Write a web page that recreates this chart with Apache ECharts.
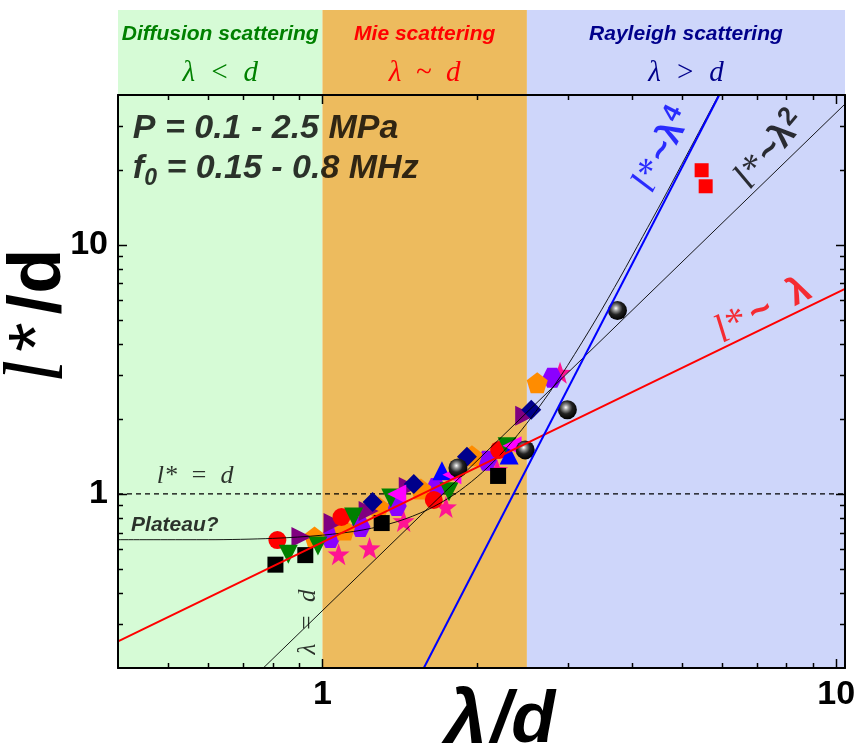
<!DOCTYPE html>
<html><head><meta charset="utf-8">
<script src="https://cdn.jsdelivr.net/npm/echarts@6/dist/echarts.min.js"></script>
<style>html,body{margin:0;padding:0;background:#fff}#c{width:864px;height:753px}</style>
</head><body><div id="c"></div>
<script>
// ---------- data ----------
const blackSquares   = [[0.81,0.52],[0.926,0.568],[1.304,0.764],[2.197,1.181]];
const redCircles     = [[0.817,0.653],[1.089,0.808],[1.647,0.946],[2.207,1.503]];
const greenDown      = [[0.858,0.573],[0.98,0.618],[1.15,0.808],[1.358,0.964],[1.763,1.02],[2.288,1.546]];
const purpleRight    = [[0.91,0.671],[1.051,0.764],[1.23,0.854],[1.472,1.067],[2.481,2.06]];
const orangePentagon = [[0.965,0.671],[1.104,0.716],[1.286,0.886],[1.554,1.047],[1.954,1.422],[2.618,2.797]];
const violetHexagon  = [[1.037,0.665],[1.186,0.737],[1.395,0.895],[1.663,1.057],[2.091,1.358],[2.801,2.93]];
const pinkStars      = [[1.075,0.573],[1.235,0.606],[1.439,0.779],[1.739,0.886],[2.187,1.249],[2.90,3.07]];
const navyDiamonds   = [[1.252,0.928],[1.506,1.097],[1.911,1.409],[2.549,2.178]];
const blueUp         = [[1.708,1.238],[2.308,1.435]];
const magentaLeft    = [[1.395,1.0],[1.786,1.193],[2.339,1.56]];
const blackSpheres   = [[1.835,1.272],[2.481,1.503],[2.997,2.178],[3.751,5.449]];
const redSquares     = [[5.47,19.95],[5.57,17.2]];

const lineLambda1 = [[0.4,0.256],[10.4,6.66]];
const lineLambda2 = [[0.767,0.2],[10.4,36.8]];
const lineLambda4 = [[1.575,0.2],[5.92,40]];
const plateauCurve = [[0.4,0.655],[0.6,0.655],[0.8,0.663],[1.0,0.683],[1.2,0.717],[1.4,0.775],[1.6,0.863],
  [1.8,0.991],[2.0,1.17],[2.2,1.41],[2.4,1.73],[2.6,2.14],[2.8,2.65],[3.0,3.28],[3.4,4.99],[3.8,7.43],
  [4.2,10.8],[4.6,15.2],[5.0,21.0],[5.4,28.3],[5.8,37.4],[6.0,42.8]];
const unityLine = [[0.4,1],[10.4,1]];

const bandEdges = [0.4, 1, 2.5, 10.4];
const bandNames = ['Diffusion scattering','Mie scattering','Rayleigh scattering'];
const bandConditions = ['λ  <  d','λ  ~  d','λ  >  d'];

const xRange = [0.4, 10.4];
const yRange = [0.2, 40];
const xMajorTicks = [1, 10];
const xMinorTicks = [0.5,0.6,0.7,0.8,0.9,2,3,4,5,6,7,8,9];
const yMajorTicks = [1, 10];
const yMinorTicks = [0.3,0.4,0.5,0.6,0.7,0.8,0.9,2,3,4,5,6,7,8,9,20,30];
const xTickLabels = ['1','10'];
const yTickLabels = ['1','10'];

// ---------- styles ----------
const SANS = '"Liberation Sans", Arial, sans-serif';
const SERIF = '"Liberation Serif", "Times New Roman", serif';
const bandColors = ['#D6FBD6', '#EDBB5E', '#CED6FA'];
const bandTextColors = ['#008000', '#FF0000', '#00008B'];
const PENTAGON = 'path://M0,-10L9.51,-3.09L5.88,8.09L-5.88,8.09L-9.51,-3.09Z';
const HEXAGON = 'path://M-10,0L-5,-8.66L5,-8.66L10,0L5,8.66L-5,8.66Z';
const STAR = 'path://M0,-10L2.35,-3.24L9.51,-3.09L3.8,1.24L5.88,8.09L0,4L-5.88,8.09L-3.8,1.24L-9.51,-3.09L-2.35,-3.24Z';

function fmtTick(labels, majors) {
  return function (v) {
    for (let i = 0; i < majors.length; i++) {
      if (Math.abs(v - majors[i]) / majors[i] < 1e-6) return labels[i];
    }
    return '';
  };
}

function markers(name, data, symbol, color, size, rotate) {
  return { type: 'scatter', name, data, symbol, symbolSize: size, symbolRotate: rotate || 0,
    itemStyle: { color, opacity: 1 }, z: 4, silent: true, xAxisIndex: 0, yAxisIndex: 0 };
}
function line(name, data, color, width, extra) {
  return Object.assign({ type: 'line', name, data, showSymbol: false, symbol: 'none', clip: true,
    lineStyle: { color, width }, z: 6, silent: true, xAxisIndex: 0, yAxisIndex: 0 }, extra || {});
}

const tickData = [].concat(
  xMajorTicks.map(v => [v, 1, 0, 1]), xMinorTicks.map(v => [v, 1, 0, 0]),
  yMajorTicks.map(v => [1, v, 1, 1]), yMinorTicks.map(v => [1, v, 1, 0]));

function renderTick(params, api) {
  const cs = params.coordSys;
  const isY = api.value(2) === 1;
  const len = api.value(3) === 1 ? 9 : 5;
  const st = { stroke: '#000', lineWidth: 1.5 };
  if (!isY) {
    const px = Math.round(api.coord([api.value(0), 1])[0]) + 0.5;
    return { type: 'group', children: [
      { type: 'line', shape: { x1: px, y1: cs.y + cs.height, x2: px, y2: cs.y + cs.height - len }, style: st },
      { type: 'line', shape: { x1: px, y1: cs.y, x2: px, y2: cs.y + len }, style: st } ] };
  }
  const py = Math.round(api.coord([1, api.value(1)])[1]) + 0.5;
  return { type: 'group', children: [
    { type: 'line', shape: { x1: cs.x, y1: py, x2: cs.x + len, y2: py }, style: st },
    { type: 'line', shape: { x1: cs.x + cs.width, y1: py, x2: cs.x + cs.width - len, y2: py }, style: st } ] };
}

const sphereColor = { type: 'radial', x: 0.42, y: 0.38, r: 0.62,
  colorStops: [{ offset: 0, color: '#ffffff' }, { offset: 0.22, color: '#9a9a9a' },
               { offset: 0.55, color: '#222' }, { offset: 1, color: '#000' }] };

const lbl = (size, color, weight, style, family) =>
  ({ fontSize: size, color, fontWeight: weight, fontStyle: style, fontFamily: family });

const annotations = {
  type: 'scatter', symbolSize: 0, silent: true, z: 8, xAxisIndex: 0, yAxisIndex: 0,
  data: [
    { value: [0.4275, 29.2], label: { show: true, position: 'right', distance: 0,
      formatter: 'P = 0.1 - 2.5 MPa', ...lbl(34, '#000', 'bold', 'italic', SANS) } },
    { value: [0.4275, 20.3], label: { show: true, position: 'right', distance: 0,
      formatter: '{f|f}{s|0}{f| = 0.15 - 0.8 MHz}',
      rich: { f: lbl(34, '#000', 'bold', 'italic', SANS),
              s: Object.assign(lbl(23, '#000', 'bold', 'italic', SANS), { padding: [20, 0, 0, 0] }) } } },
    { value: [0.565, 1.18], label: { show: true, position: 'inside',
      formatter: 'l*  =  d', ...lbl(26, '#000', 'normal', 'italic', SERIF) } },
    { value: [0.516, 0.75], label: { show: true, position: 'inside',
      formatter: 'Plateau?', ...lbl(21, '#000', 'bold', 'italic', SANS) } },
    { value: [0.939, 0.306], label: { show: true, position: 'inside', rotate: 90,
      formatter: 'λ  =  d', ...lbl(25, '#000', 'normal', 'italic', SERIF) } },
    { value: [4.6, 24.0], label: { show: true, position: 'inside', rotate: 63,
      formatter: '{l|l*} {t|~λ}{p|4}',
      rich: { l: lbl(38, '#0000FF', 'normal', 'italic', SERIF), t: lbl(36, '#0000FF', 'bold', 'normal', SANS),
              p: Object.assign(lbl(26, '#0000FF', 'bold', 'normal', SANS), { padding: [0, 0, 16, 0] }) } } },
    { value: [7.45, 24.0], label: { show: true, position: 'inside', rotate: 50,
      formatter: '{l|l*} {t|~λ}{p|2}',
      rich: { l: lbl(38, '#000', 'normal', 'italic', SERIF), t: lbl(36, '#000', 'bold', 'normal', SANS),
              p: Object.assign(lbl(26, '#000', 'bold', 'normal', SANS), { padding: [0, 0, 16, 0] }) } } },
    { value: [7.2, 5.45], label: { show: true, position: 'inside', rotate: 27,
      formatter: '{l|l*}  {t|~  λ}',
      rich: { l: lbl(40, '#FF0000', 'normal', 'italic', SERIF), t: lbl(38, '#FF0000', 'bold', 'normal', SANS) } } }
  ]
};

const mainBands = bandNames.map((n, i) => [
  { xAxis: bandEdges[i], itemStyle: { color: bandColors[i], opacity: 1 } },
  { xAxis: bandEdges[i + 1] }]);
const topBands = bandNames.map((n, i) => [
  { xAxis: bandEdges[i], itemStyle: { color: bandColors[i], opacity: 1 },
    label: { show: true, position: 'insideTop', distance: 10,
      formatter: '{a|' + n + '}\n{b|' + bandConditions[i] + '}',
      rich: { a: Object.assign(lbl(21, bandTextColors[i], 'bold', 'italic', SANS), { lineHeight: 28 }),
              b: Object.assign(lbl(29, bandTextColors[i], 'normal', 'italic', SERIF), { lineHeight: 50 }) } } },
  { xAxis: bandEdges[i + 1] }]);

const axisLineStyle = { show: true, lineStyle: { color: '#000', width: 2 } };
const logAxisBase = { type: 'log', logBase: 10, splitLine: { show: false }, axisTick: { show: false },
  minorTick: { show: false }, z: 10 };

const option = {
  animation: false,
  backgroundColor: '#fff',
  grid: [
    { left: 118, right: 19, top: 95, bottom: 85 },
    { left: 118, right: 19, top: 10, height: 85 }
  ],
  xAxis: [
    Object.assign({}, logAxisBase, { gridIndex: 0, position: 'bottom', min: xRange[0], max: xRange[1],
      axisLine: axisLineStyle,
      axisLabel: { show: true, formatter: fmtTick(xTickLabels, xMajorTicks), showMinLabel: false, showMaxLabel: false,
        margin: 10, color: '#000', fontSize: 34, fontWeight: 'bold', fontFamily: SANS } }),
    Object.assign({}, logAxisBase, { gridIndex: 0, position: 'top', min: xRange[0], max: xRange[1],
      axisLine: axisLineStyle, axisLabel: { show: false } }),
    Object.assign({}, logAxisBase, { gridIndex: 1, min: xRange[0], max: xRange[1], show: false })
  ],
  yAxis: [
    Object.assign({}, logAxisBase, { gridIndex: 0, position: 'left', min: yRange[0], max: yRange[1],
      axisLine: axisLineStyle,
      axisLabel: { show: true, formatter: fmtTick(yTickLabels, yMajorTicks), showMinLabel: false, showMaxLabel: false,
        margin: 10, color: '#000', fontSize: 34, fontWeight: 'bold', fontFamily: SANS } }),
    Object.assign({}, logAxisBase, { gridIndex: 0, position: 'right', min: yRange[0], max: yRange[1],
      axisLine: axisLineStyle, axisLabel: { show: false } }),
    { type: 'value', gridIndex: 1, min: 0, max: 1, show: false }
  ],
  graphic: [
    { type: 'text', x: 500, y: 722, z: 20,
      style: { text: '{a|λ}{b|/d}', align: 'center', verticalAlign: 'middle',
        rich: { a: Object.assign(lbl(76, '#000', 'bold', 'italic', SANS), { padding: [0, 4, 0, 0] }),
                b: lbl(72, '#000', 'bold', 'italic', SANS) } } },
    { type: 'text', x: 40, y: 316, rotation: Math.PI / 2, z: 20,
      style: { text: '{a|l}{s|*}{b|/d}', align: 'center', verticalAlign: 'middle',
        rich: { a: Object.assign(lbl(84, '#000', 'normal', 'italic', SERIF), { padding: [0, 8, 0, 0] }),
                s: Object.assign(lbl(76, '#000', 'normal', 'normal', SANS), { padding: [0, 8, 0, 0] }),
                b: lbl(74, '#000', 'bold', 'normal', SANS) } } }
  ],
  series: [
    { type: 'line', name: 'topBands', xAxisIndex: 2, yAxisIndex: 2, data: [[1, 0.5]], showSymbol: false,
      symbol: 'none', lineStyle: { width: 0 }, silent: true, z: 1,
      markArea: { silent: true, data: topBands } },
    line('l* = d', unityLine, '#000', 1.2, { z: 1, lineStyle: { color: '#000', width: 1.2, type: [5, 4] },
      markArea: { silent: true, data: mainBands } }),
    markers('pink stars', pinkStars, STAR, '#FF1493', 22),
    markers('violet hexagons', violetHexagon, HEXAGON, '#8B00FF', 20),
    markers('orange pentagons', orangePentagon, PENTAGON, '#FF8C00', 21),
    markers('purple triangles', purpleRight, 'triangle', '#800080', 20, -90),
    markers('red circles', redCircles, 'circle', '#FF0000', 18),
    markers('green triangles', greenDown, 'triangle', '#008000', 19, 180),
    markers('black squares', blackSquares, 'rect', '#000000', 16),
    markers('navy diamonds', navyDiamonds, 'diamond', '#00008B', 20, 0),
    markers('blue triangles', blueUp, 'triangle', '#0000FF', 19),
    markers('magenta triangles', magentaLeft, 'triangle', '#FF00FF', 19, 90),
    markers('black spheres', blackSpheres, 'circle', sphereColor, 19),
    markers('red squares', redSquares, 'rect', '#FF0000', 14),
    line('plateau', plateauCurve, '#000', 0.9, { smooth: 0.3 }),
    line('l* ~ λ^2', lineLambda2, '#000', 0.9),
    line('l* ~ λ', lineLambda1, '#FF0000', 2),
    line('l* ~ λ^4', lineLambda4, '#0000FF', 2),
    annotations,
    { type: 'custom', name: 'ticks', xAxisIndex: 0, yAxisIndex: 0, data: tickData, renderItem: renderTick,
      encode: { x: 0, y: 1 }, z: 11, silent: true, clip: false }
  ]
};

const chart = echarts.init(document.getElementById('c'), null, { renderer: 'canvas' });
chart.setOption(option);
</script>
</body></html>
